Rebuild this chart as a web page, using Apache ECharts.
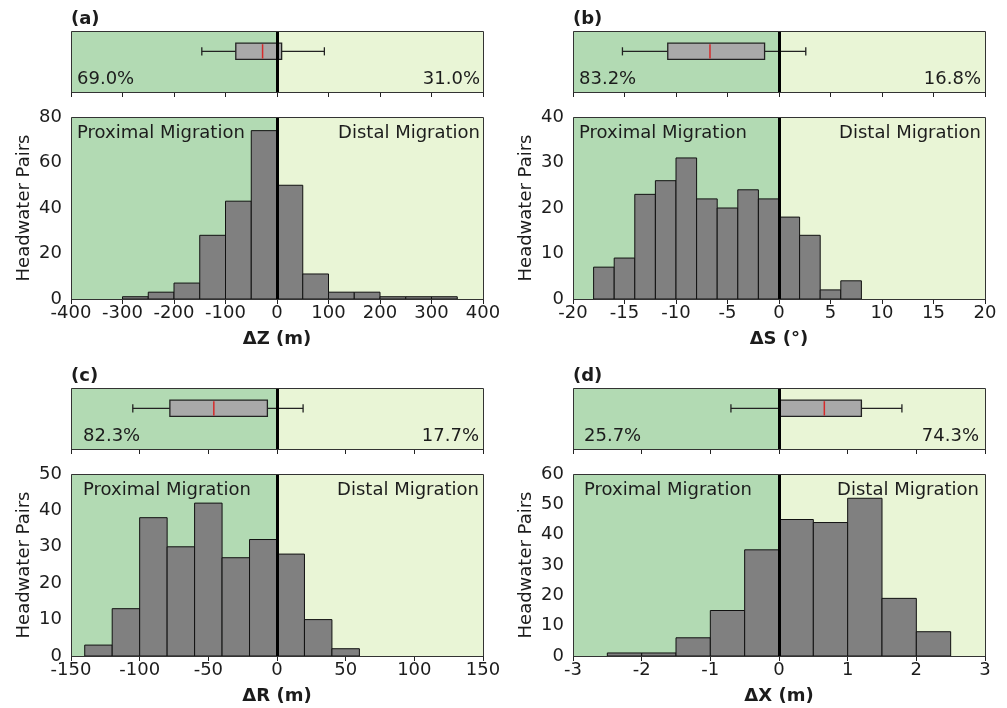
<!DOCTYPE html>
<html><head><meta charset="utf-8">
<script src="https://cdn.jsdelivr.net/npm/echarts@6/dist/echarts.min.js"></script>
<style>html,body{margin:0;padding:0;background:#fff}#c{width:1007px;height:708px}</style>
</head><body><div id="c"></div>
<script>
// ---- data ----
const panelLetters = ['(a)', '(b)', '(c)', '(d)'];
const xAxisNames = ['ΔZ (m)', 'ΔS (°)', 'ΔR (m)', 'ΔX (m)'];
const yAxisName = 'Headwater Pairs';
const xMins = [-400, -20, -150, -3];
const xMaxs = [400, 20, 150, 3];
const xIntervals = [100, 5, 50, 1];
const yMaxs = [80, 40, 50, 60];
const yIntervals = [20, 10, 10, 10];

const binEdgesA = [-300, -250, -200, -150, -100, -50, 0, 50, 100, 150, 200, 250, 300, 350];
const countsA = [1, 3, 7, 28, 43, 74, 50, 11, 3, 3, 1, 1, 1];
const binEdgesB = [-18, -16, -14, -12, -10, -8, -6, -4, -2, 0, 2, 4, 6, 8];
const countsB = [7, 9, 23, 26, 31, 22, 20, 24, 22, 18, 14, 2, 4];
const binEdgesC = [-140, -120, -100, -80, -60, -40, -20, 0, 20, 40, 60];
const countsC = [3, 13, 38, 30, 42, 27, 32, 28, 10, 2];
const binEdgesD = [-2.5, -2, -1.5, -1, -0.5, 0, 0.5, 1, 1.5, 2, 2.5];
const countsD = [1, 1, 6, 15, 35, 45, 44, 52, 19, 8];

// box plot stats: [whiskerLow, q1, median, q3, whiskerHigh]
const boxA = [-146, -80, -28, 9, 92];
const boxB = [-15.2, -10.8, -6.7, -1.4, 2.6];
const boxC = [-105, -78, -46, -7, 19];
const boxD = [-0.70, 0.0, 0.66, 1.2, 1.79];

const pctLeft = ['69.0%', '83.2%', '82.3%', '25.7%'];
const pctRight = ['31.0%', '16.8%', '17.7%', '74.3%'];
const regionLabels = ['Proximal Migration', 'Distal Migration'];

// ---- style / layout ----
const DARK = '#b2dab3', LIGHT = '#e9f5d6';
const TXT = '#1c1c1c';
const FONT = 'DejaVu Sans';
const FS = 18;
const colLeft = [71, 573], boxTops = [31, 388], histTops = [117, 474];
const W = 412, BOXH = 61, HISTH = 182;
const leftPad = [6, 6, 12, 11], rightPad = [3, 4, 4, 6];

const edges = [binEdgesA, binEdgesB, binEdgesC, binEdgesD];
const counts = [countsA, countsB, countsC, countsD];
const boxes = [boxA, boxB, boxC, boxD];

const option = { animation: false, grid: [], xAxis: [], yAxis: [], series: [], graphic: [] };

function bgSeries(ai, i) {
  return {
    type: 'line', xAxisIndex: ai, yAxisIndex: ai, data: [], z: 0, silent: true,
    markArea: { silent: true, data: [
      [{ xAxis: xMins[i], itemStyle: { color: DARK } }, { xAxis: 0 }],
      [{ xAxis: 0, itemStyle: { color: LIGHT } }, { xAxis: xMaxs[i] }]
    ] }
  };
}
function zeroLine(ai) {
  return {
    type: 'line', xAxisIndex: ai, yAxisIndex: ai, data: [], z: 10, silent: true,
    markLine: { silent: true, symbol: 'none', animation: false, label: { show: false },
      lineStyle: { color: '#000', width: 3, type: 'solid' }, data: [{ xAxis: 0 }] }
  };
}

for (let i = 0; i < 4; i++) {
  const col = i % 2, row = Math.floor(i / 2);
  const left = colLeft[col];
  const bi = 2 * i, hi = 2 * i + 1;
  option.grid.push({ left: left, top: boxTops[row], width: W, height: BOXH });
  option.grid.push({ left: left, top: histTops[row], width: W, height: HISTH });

  const tick = { show: true, length: 5, lineStyle: { color: '#222', width: 1 } };
  option.xAxis.push({ gridIndex: bi, type: 'value', min: xMins[i], max: xMaxs[i], interval: xIntervals[i],
    axisLine: { show: false }, axisTick: tick, axisLabel: { show: false }, splitLine: { show: false } });
  option.yAxis.push({ gridIndex: bi, type: 'value', min: 0, max: 1.5, show: false });

  option.xAxis.push({ gridIndex: hi, type: 'value', min: xMins[i], max: xMaxs[i], interval: xIntervals[i],
    axisLine: { show: false }, axisTick: tick, splitLine: { show: false },
    axisLabel: { show: true, margin: 5, color: TXT, fontSize: FS, fontFamily: FONT },
    name: xAxisNames[i], nameLocation: 'middle', nameGap: 31,
    nameTextStyle: { color: TXT, fontSize: FS, fontWeight: 'bold', fontFamily: FONT } });
  option.yAxis.push({ gridIndex: hi, type: 'value', min: 0, max: yMaxs[i], interval: yIntervals[i],
    axisLine: { show: false }, axisTick: tick, splitLine: { show: false },
    axisLabel: { show: true, margin: 9, color: TXT, fontSize: FS, fontFamily: FONT },
    name: yAxisName, nameLocation: 'middle', nameGap: 38,
    nameTextStyle: { color: TXT, fontSize: FS, fontFamily: FONT } });

  // box strip
  option.series.push(bgSeries(bi, i));
  option.series.push({
    type: 'custom', xAxisIndex: bi, yAxisIndex: bi, z: 3, silent: true,
    dimensions: ['lo', 'q1', 'med', 'q3', 'hi', 'pos'],
    encode: { x: [0, 1, 2, 3, 4], y: 5 },
    data: [[...boxes[i], 1]],
    renderItem: function (params, api) {
      const y = api.value(5);
      const half = 0.2, cap = 0.1;
      const P = (x, yy) => api.coord([x, yy]);
      const lo = api.value(0), q1 = api.value(1), md = api.value(2), q3 = api.value(3), hv = api.value(4);
      const lineS = { stroke: '#222', lineWidth: 1.3 };
      const seg = (a, b) => ({ type: 'line', shape: { x1: a[0], y1: a[1], x2: b[0], y2: b[1] }, style: lineS });
      const tl = P(q1, y + half), br = P(q3, y - half);
      return { type: 'group', children: [
        seg(P(lo, y), P(q1, y)),
        seg(P(q3, y), P(hv, y)),
        seg(P(lo, y - cap), P(lo, y + cap)),
        seg(P(hv, y - cap), P(hv, y + cap)),
        { type: 'rect', shape: { x: tl[0], y: tl[1], width: br[0] - tl[0], height: br[1] - tl[1] },
          style: { fill: '#a9a9a9', stroke: '#222', lineWidth: 1.3 } },
        { type: 'line', shape: { x1: P(md, 0)[0], y1: tl[1] + 1, x2: P(md, 0)[0], y2: br[1] - 1 },
          style: { stroke: '#d62a2a', lineWidth: 1.5 } }
      ] };
    }
  });
  option.series.push(zeroLine(bi));

  // histogram
  const binData = counts[i].map((c, k) => [edges[i][k], edges[i][k + 1], c]);
  option.series.push(bgSeries(hi, i));
  option.series.push({
    type: 'custom', xAxisIndex: hi, yAxisIndex: hi, z: 3, silent: true,
    dimensions: ['start', 'end', 'count'],
    encode: { x: [0, 1], y: 2 },
    data: binData,
    renderItem: function (params, api) {
      const p0 = api.coord([api.value(0), 0]);
      const p1 = api.coord([api.value(1), api.value(2)]);
      return { type: 'rect', shape: { x: p0[0], y: p1[1], width: p1[0] - p0[0], height: p0[1] - p1[1] },
        style: { fill: '#808080', stroke: '#111', lineWidth: 1 } };
    }
  });
  option.series.push(zeroLine(hi));

  // frames
  [[boxTops[row], BOXH], [histTops[row], HISTH]].forEach(([t, h]) => {
    option.graphic.push({ type: 'rect', z: 100, silent: true,
      shape: { x: left + 0.5, y: t + 0.5, width: W, height: h },
      style: { fill: 'none', stroke: '#333', lineWidth: 1 } });
  });

  // texts
  const ts = (extra) => Object.assign({ fill: TXT, fontSize: FS, fontFamily: FONT }, extra);
  option.graphic.push({ type: 'text', z: 101, x: left, y: boxTops[row] - 12,
    style: ts({ text: panelLetters[i], fontWeight: 'bold', align: 'left', verticalAlign: 'middle' }) });
  option.graphic.push({ type: 'text', z: 101, x: left + leftPad[i], y: boxTops[row] + BOXH - 4,
    style: ts({ text: pctLeft[i], align: 'left', verticalAlign: 'bottom' }) });
  option.graphic.push({ type: 'text', z: 101, x: left + W - rightPad[i], y: boxTops[row] + BOXH - 4,
    style: ts({ text: pctRight[i], align: 'right', verticalAlign: 'bottom' }) });
  option.graphic.push({ type: 'text', z: 101, x: left + leftPad[i], y: histTops[row] + 16,
    style: ts({ text: regionLabels[0], align: 'left', verticalAlign: 'middle' }) });
  option.graphic.push({ type: 'text', z: 101, x: left + W - rightPad[i], y: histTops[row] + 16,
    style: ts({ text: regionLabels[1], align: 'right', verticalAlign: 'middle' }) });
}

const chart = echarts.init(document.getElementById('c'), null, { renderer: 'canvas' });
chart.setOption(option);
</script>
</body></html>
